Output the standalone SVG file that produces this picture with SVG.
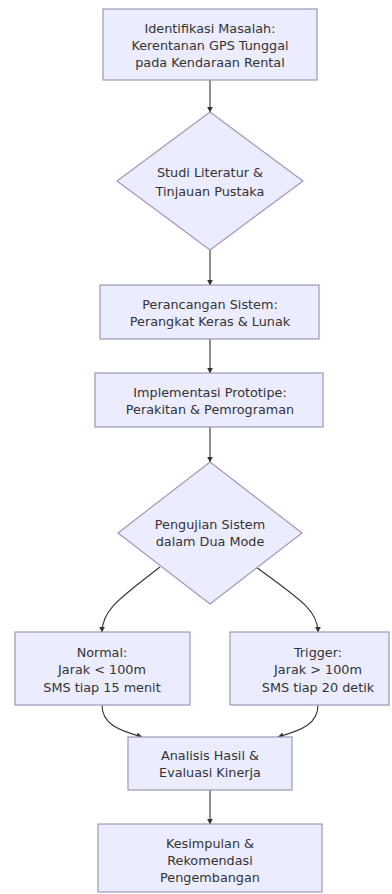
<svg xmlns="http://www.w3.org/2000/svg" width="392" height="894" viewBox="0 0 392 894">
<style>
.n{fill:#ECECFF;stroke:#9b99b8;stroke-width:1.2}
.t{font-family:"DejaVu Sans",Verdana,sans-serif;font-size:12.8px;fill:#333;text-anchor:middle;dominant-baseline:central}
.e{fill:none;stroke:#333;stroke-width:1.1;marker-end:url(#ah)}
</style>
<defs>
<marker id="ah" viewBox="0 0 10 10" refX="9" refY="5" markerWidth="6" markerHeight="6" orient="auto" markerUnits="userSpaceOnUse">
<path d="M0,0 L10,5 L0,10 z" fill="#333"/>
</marker>
</defs>
<rect width="392" height="894" fill="#fff"/>
<g id="edges">
<path class="e" d="M210,80 L210,112"/>
<path class="e" d="M210,250 L210,285"/>
<path class="e" d="M210,339 L210,373"/>
<path class="e" d="M210,427 L210,462"/>
<path class="e" d="M160,567 C120,598 102,610 102,632"/>
<path class="e" d="M256,567 C298,598 318,610 318,632"/>
<path class="e" d="M102,705 C102,724 118,730 142,737"/>
<path class="e" d="M318,705 C318,724 302,730 278,737"/>
<path class="e" d="M210,790 L210,824"/>
</g>
<g id="n1">
<rect class="n" x="103" y="9" width="214" height="71"/>
<text class="t" x="210" y="28">Identifikasi Masalah:</text>
<text class="t" x="210" y="45">Kerentanan GPS Tunggal</text>
<text class="t" x="210" y="62">pada Kendaraan Rental</text>
</g>
<g id="n2">
<polygon class="n" points="210,112 303,181 210,250 117,181"/>
<text class="t" x="210" y="172">Studi Literatur &amp;</text>
<text class="t" x="210" y="191">Tinjauan Pustaka</text>
</g>
<g id="n3">
<rect class="n" x="100" y="285" width="219" height="54"/>
<text class="t" x="210" y="304">Perancangan Sistem:</text>
<text class="t" x="210" y="321">Perangkat Keras &amp; Lunak</text>
</g>
<g id="n4">
<rect class="n" x="95" y="373" width="228" height="54"/>
<text class="t" x="210" y="392">Implementasi Prototipe:</text>
<text class="t" x="210" y="409">Perakitan &amp; Pemrograman</text>
</g>
<g id="n5">
<polygon class="n" points="210,462 302,533 210,604 118,533"/>
<text class="t" x="210" y="524">Pengujian Sistem</text>
<text class="t" x="210" y="541">dalam Dua Mode</text>
</g>
<g id="n6">
<rect class="n" x="15" y="632" width="175" height="73"/>
<text class="t" x="102" y="652">Normal:</text>
<text class="t" x="102" y="669">Jarak &lt; 100m</text>
<text class="t" x="102" y="687">SMS tiap 15 menit</text>
</g>
<g id="n7">
<rect class="n" x="230" y="632" width="159" height="73"/>
<text class="t" x="318" y="652">Trigger:</text>
<text class="t" x="318" y="669">Jarak &gt; 100m</text>
<text class="t" x="318" y="687">SMS tiap 20 detik</text>
</g>
<g id="n8">
<rect class="n" x="128" y="737" width="164" height="53"/>
<text class="t" x="210" y="755">Analisis Hasil &amp;</text>
<text class="t" x="210" y="772">Evaluasi Kinerja</text>
</g>
<g id="n9">
<rect class="n" x="98" y="824" width="224" height="68"/>
<text class="t" x="210" y="843">Kesimpulan &amp;</text>
<text class="t" x="210" y="860">Rekomendasi</text>
<text class="t" x="210" y="877">Pengembangan</text>
</g>
</svg>
